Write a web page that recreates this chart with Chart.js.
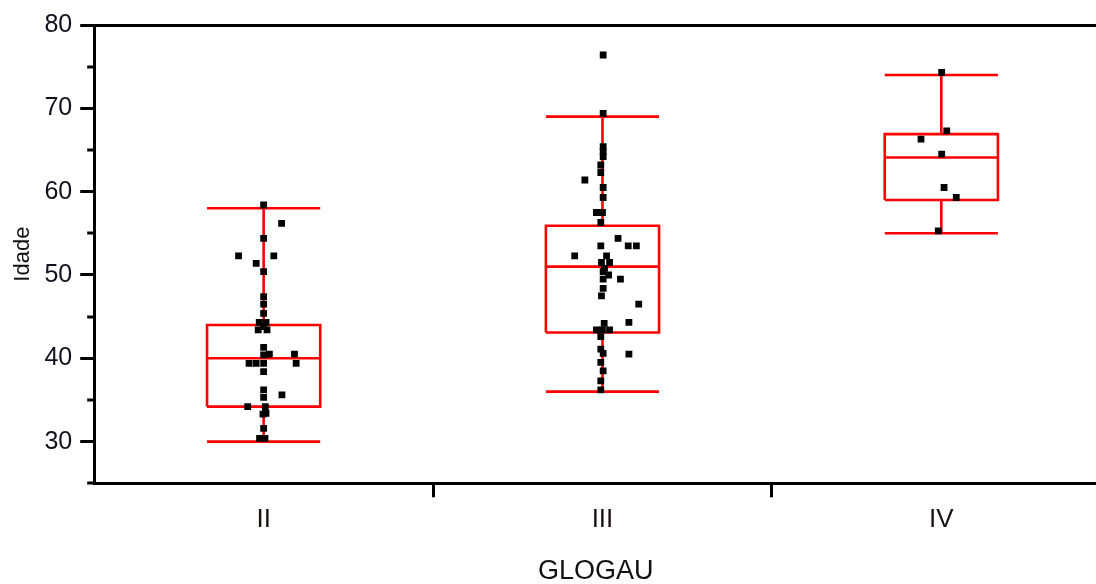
<!DOCTYPE html>
<html>
<head>
<meta charset="utf-8">
<script src="https://cdn.jsdelivr.net/npm/chart.js@4.4.1/dist/chart.umd.min.js"></script>
<style>
	html, body { margin: 0; padding: 0; background: #fff; overflow: hidden; }
	.canvas-container { width: 1102px; height: 584px; }
</style>
</head>
<body>
<div class="canvas-container">
	<canvas id="chart"></canvas>
</div>
<script>
// Groups on the x axis
const categories = ["II", "III", "IV"];

// Box summaries per group (whisker ends, quartiles, median)
const whiskerLow = [30, 36, 55];
const q1 = [34.2, 43.1, 59];
const median = [40, 51, 64.1];
const q3 = [44, 55.9, 66.9];
const whiskerHigh = [58, 69, 74];

// Individual ages and their horizontal jitter (category units)
const idadeII = [58.4, 56.2, 54.4, 52.3, 52.3, 51.4, 50.4, 47.4, 46.5, 45.4,
	44.3, 44.3, 43.4, 43.4, 43.8, 41.3, 40.4, 40.5, 40.5, 39.4,
	39.4, 39.4, 39.4, 38.4, 36.2, 35.3, 35.6, 34.2, 34.2, 33.3,
	33.4, 31.6, 30.4, 30.4];
const jitterII = [0, 0.053, 0, -0.074, 0.030, -0.022, 0, 0, 0, 0,
	-0.013, 0.007, -0.016, 0.010, 0, 0, 0, 0.017, 0.091, -0.043,
	-0.022, 0, 0.096, 0, 0, 0, 0.054, -0.047, 0.005, -0.002,
	0.007, 0, -0.012, 0.004];

const idadeIII = [76.4, 69.4, 65.4, 64.8, 64.2, 63.2, 62.3, 61.4, 60.5, 59.3,
	57.5, 57.5, 56.3, 54.4, 53.5, 53.5, 53.5, 52.3, 52.3, 51.5,
	51.5, 50.8, 50.4, 50.0, 49.5, 49.5, 48.4, 47.5, 46.5, 44.2,
	44.3, 43.4, 43.4, 43.4, 42.6, 41.1, 40.6, 40.5, 39.5, 38.5,
	37.3, 36.2];
const jitterIII = [0.002, 0.002, 0.002, 0.002, 0.002, -0.005, -0.005, -0.052, 0.002, 0.002,
	-0.018, 0, -0.005, 0.046, -0.005, 0.076, 0.100, -0.082, 0.012, -0.003,
	0.021, 0.006, 0.002, 0.018, 0.002, 0.053, 0.002, -0.003, 0.107, 0.005,
	0.078, -0.018, 0, 0.021, -0.005, -0.005, 0.002, 0.078, -0.005, 0.002,
	-0.005, -0.005];

const idadeIV = [74.3, 67.3, 66.3, 64.5, 60.5, 59.3, 55.3];
const jitterIV = [0.001, 0.016, -0.060, 0.001, 0.008, 0.044, -0.009];

// Axis ticks
const majorTicks = [30, 40, 50, 60, 70, 80];
const minorTicks = [25, 35, 45, 55, 65, 75];

const groups = [
	{ values: idadeII, jitter: jitterII },
	{ values: idadeIII, jitter: jitterIII },
	{ values: idadeIV, jitter: jitterIV },
];

const BOX_HALF = 0.167;
const FONT = "'Liberation Sans', Arial, sans-serif";

// Build the box outlines as one broken line, gaps separate the pieces
function buildBoxes() {
	const gap = { x: null, y: null };
	let pts = [];
	categories.forEach((c, i) => {
		const cx = i + 0.5;
		const l = cx - BOX_HALF;
		const r = cx + BOX_HALF;
		pts.push(
			{ x: l, y: q1[i] }, { x: r, y: q1[i] }, { x: r, y: q3[i] }, { x: l, y: q3[i] }, { x: l, y: q1[i] }, gap,
			{ x: l, y: median[i] }, { x: r, y: median[i] }, gap,
			{ x: cx, y: q3[i] }, { x: cx, y: whiskerHigh[i] }, gap,
			{ x: l, y: whiskerHigh[i] }, { x: r, y: whiskerHigh[i] }, gap,
			{ x: cx, y: q1[i] }, { x: cx, y: whiskerLow[i] }, gap,
			{ x: l, y: whiskerLow[i] }, { x: r, y: whiskerLow[i] }, gap
		);
	});
	return pts;
}

function buildPoints() {
	let pts = [];
	groups.forEach((g, i) => {
		g.values.forEach((v, k) => {
			pts.push({ x: i + 0.5 + g.jitter[k], y: v });
		});
	});
	return pts;
}

// Short ticks between the labelled ones on the y axis
const minorTickPlugin = {
	id: "minorTicks",
	afterDraw(chart) {
		const ctx = chart.ctx;
		const y = chart.scales.y;
		ctx.save();
		ctx.strokeStyle = "#000";
		ctx.lineWidth = 3;
		minorTicks.forEach((v) => {
			const py = Math.round(y.getPixelForValue(v));
			ctx.beginPath();
			ctx.moveTo(y.right - 7, py);
			ctx.lineTo(y.right, py);
			ctx.stroke();
		});
		ctx.restore();
	},
};

const ctx = document.getElementById("chart").getContext("2d");
const chart = new Chart(ctx, {
	type: "scatter",
	data: {
		datasets: [
			{
				label: "Idade",
				data: buildPoints(),
				pointStyle: "rect",
				pointRadius: 4.8,
				pointBorderWidth: 0,
				backgroundColor: "#000",
				borderColor: "#000",
				order: 0,
			},
			{
				label: "box",
				data: buildBoxes(),
				showLine: true,
				spanGaps: false,
				pointRadius: 0,
				borderColor: "#ff0000",
				borderWidth: 2.6,
				fill: false,
				order: 1,
			},
		],
	},
	options: {
		responsive: true,
		maintainAspectRatio: false,
		animation: false,
		layout: { padding: { top: 25, right: 0, bottom: -1.5, left: 0 } },
		plugins: {
			legend: { display: false },
			tooltip: { enabled: false },
		},
		scales: {
			x: {
				type: "linear",
				min: 0,
				max: 2.96,
				afterBuildTicks(scale) {
					scale.ticks = [0.5, 1, 1.5, 2, 2.5].map((v) => ({ value: v }));
				},
				ticks: {
					autoSkip: false,
					maxRotation: 0,
					padding: 7,
					color: "#1a1010",
					font: { family: FONT, size: 26 },
					callback: (v) => {
						const i = v - 0.5;
						return Number.isInteger(i) ? categories[i] : "";
					},
				},
				grid: {
					drawOnChartArea: false,
					tickLength: 14,
					tickWidth: 3,
					tickColor: (c) => (c.tick && Number.isInteger(c.tick.value) ? "#000" : "transparent"),
				},
				border: { display: true, color: "#000", width: 3 },
				title: {
					display: true,
					text: "GLOGAU",
					color: "#111",
					font: { family: FONT, size: 27, lineHeight: 1 },
					padding: { top: 16, bottom: 0 },
				},
			},
			y: {
				min: 25,
				max: 80,
				afterBuildTicks(scale) {
					scale.ticks = majorTicks.map((v) => ({ value: v }));
				},
				ticks: {
					padding: 8,
					color: "#10101e",
					font: { family: FONT, size: 25 },
				},
				grid: {
					drawOnChartArea: true,
					lineWidth: 3,
					color: (c) => (c.tick && c.tick.value === 80 ? "#000" : "transparent"),
					tickLength: 14,
					tickWidth: 3,
					tickColor: "#000",
				},
				border: { display: true, color: "#000", width: 3 },
				title: {
					display: true,
					text: "Idade",
					color: "#111",
					font: { family: FONT, size: 22 },
					padding: { top: 10, bottom: 0 },
				},
			},
		},
	},
	plugins: [minorTickPlugin],
});
</script>
</body>
</html>
